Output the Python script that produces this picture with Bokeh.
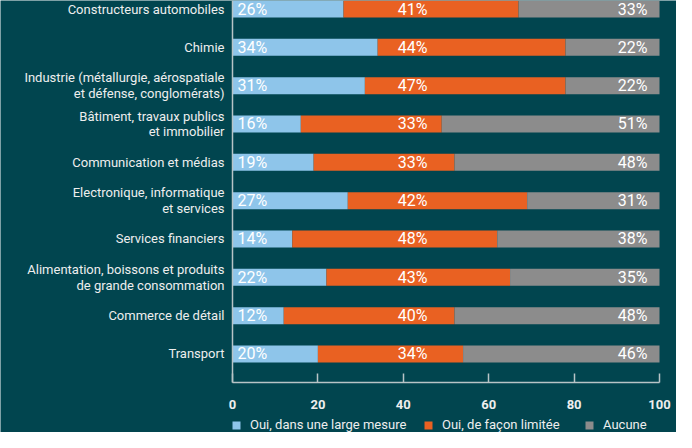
from bokeh.plotting import figure
from bokeh.models import ColumnDataSource, Range1d, FixedTicker, Legend, LegendItem
from bokeh.core.properties import value
from bokeh.embed import file_html
from bokeh.resources import INLINE

categories = [
    "Constructeurs automobiles",
    "Chimie",
    "Industrie (métallurgie, aérospatiale\net défense, conglomérats)",
    "Bâtiment, travaux publics\net immobilier",
    "Communication et médias",
    "Electronique, informatique\net services",
    "Services financiers",
    "Alimentation, boissons et produits\nde grande consommation",
    "Commerce de détail",
    "Transport",
]
large = [26, 34, 31, 16, 19, 27, 14, 22, 12, 20]
limitee = [41, 44, 47, 33, 33, 42, 48, 43, 40, 34]
aucune = [33, 22, 22, 51, 48, 31, 38, 35, 48, 46]
series_names = ["Oui, dans une large mesure", "Oui, de façon limitée", "Aucune"]
x_ticks = [0, 20, 40, 60, 80, 100]

BG = "#01454f"
COLORS = ["#8ec5ea", "#e96122", "#8c8c8c"]
AXIS_C = "#b8c4c6"
FONT = "Roboto"
Y_TOP, Y_AXIS, Y_BOTTOM = -0.222, 9.744, 11.049
X_LEFT, X_RIGHT = -54.33, 103.98

ypos = list(range(len(categories)))
src = ColumnDataSource(dict(y=ypos, large=large, limitee=limitee, aucune=aucune))

p = figure(width=676, height=432, output_backend="svg", toolbar_location=None,
           x_range=Range1d(X_LEFT, X_RIGHT), y_range=Range1d(Y_BOTTOM, Y_TOP),
           min_border_left=0, min_border_right=0, min_border_top=0, min_border_bottom=0)
p.background_fill_color = BG
p.border_fill_color = BG
p.outline_line_color = None
p.xgrid.visible = False
p.ygrid.visible = False

rends = p.hbar_stack(["large", "limitee", "aucune"], y="y", height=0.444, source=src,
                     color=COLORS, line_color=None)

# percentage labels
lab_specs = [(large, 1.2, "left"), (limitee, 42.2, "center"), (aucune, 97.2, "right")]
for vals, xx, al in lab_specs:
    s = ColumnDataSource(dict(x=[xx] * len(vals), y=ypos, t=[f"{v}%" for v in vals]))
    p.text(x="x", y="y", text="t", source=s, text_align=al, text_baseline="middle",
           text_color="#ffffff", text_font=value(FONT), text_font_size="16px")

# x axis, drawn at a fixed place inside the frame
p.xaxis.fixed_location = Y_AXIS
p.xaxis.bounds = (0, 100)
p.xaxis.ticker = FixedTicker(ticks=x_ticks)
p.xaxis.axis_line_color = AXIS_C
p.xaxis.axis_line_width = 1.5
p.xaxis.major_tick_line_color = AXIS_C
p.xaxis.major_tick_line_width = 1.5
p.xaxis.major_tick_in = 9
p.xaxis.major_tick_out = 0
p.xaxis.minor_tick_line_color = None
p.xaxis.major_label_text_color = "#eeeeee"
p.xaxis.major_label_text_font = FONT
p.xaxis.major_label_text_font_size = "13px"
p.xaxis.major_label_text_font_style = "bold"
p.xaxis.major_label_standoff = 18

# y axis (categories) at x = 0
p.yaxis.fixed_location = 0
p.yaxis.ticker = FixedTicker(ticks=ypos)
p.yaxis.bounds = (Y_TOP, Y_AXIS)
p.yaxis.major_label_overrides = {i: c for i, c in enumerate(categories)}
p.yaxis.axis_line_color = AXIS_C
p.yaxis.axis_line_width = 1.5
p.yaxis.major_tick_line_color = None
p.yaxis.minor_tick_line_color = None
p.yaxis.major_label_text_color = "#eeeeee"
p.yaxis.major_label_text_font = FONT
p.yaxis.major_label_text_font_size = "13px"
p.yaxis.major_label_text_line_height = 1.05
p.yaxis.major_label_standoff = 2

# legend: three single-item legends inside the frame
legend_x = [231, 423, 584]
for r, name, lx in zip(rends, series_names, legend_x):
    lg = Legend(items=[LegendItem(label=name, renderers=[r])], location=(lx, 0),
                orientation="horizontal", padding=0, margin=0, spacing=0,
                glyph_width=10, glyph_height=10, label_standoff=9, label_height=14,
                border_line_color=None, background_fill_alpha=0,
                label_text_color="#eeeeee", label_text_font=FONT,
                label_text_font_size="13px")
    p.add_layout(lg)

open("out.html", "w").write(file_html(p, INLINE))
